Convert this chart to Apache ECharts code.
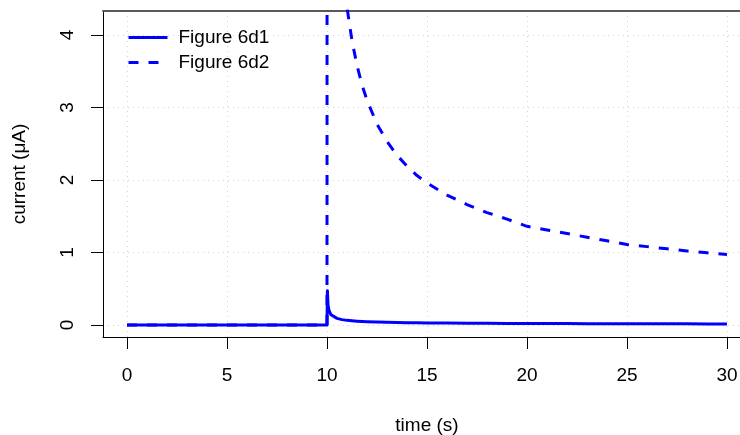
<!DOCTYPE html>
<html>
<head>
<meta charset="utf-8">
<script src="https://cdn.jsdelivr.net/npm/echarts@6/dist/echarts.min.js"></script>
<style>
  html, body { margin: 0; padding: 0; background: #fff; }
  #chart { width: 740px; height: 435px; }
</style>
</head>
<body>
<div id="chart"></div>
<script>
// Chronoamperometry traces: current step applied at t = 10 s
const timeSec = [0, 10, 10.02, 10.05, 10.1, 10.2, 10.3, 10.5, 10.75, 11, 11.25, 11.5, 11.75,
  12, 12.5, 13, 13.5, 14, 14.5, 15, 16, 17, 18, 19, 20, 21, 22, 23, 24, 25, 26, 27, 28, 29, 30];

// Figure 6d1 (solid)
const current6d1 = [0, 0, 0.47, 0.28, 0.2, 0.14, 0.115, 0.09, 0.073, 0.063, 0.057, 0.052, 0.048,
  0.045, 0.04, 0.036, 0.033, 0.031, 0.029, 0.028, 0.026, 0.024, 0.022, 0.021, 0.02, 0.019, 0.018,
  0.017, 0.017, 0.016, 0.016, 0.015, 0.015, 0.014, 0.014];

// Figure 6d2 (dashed)
const current6d2 = [0, 0, 31, 19.6, 13.9, 9.8, 8.0, 6.2, 5.06, 4.38, 3.92, 3.58, 3.31,
  3.1, 2.77, 2.53, 2.34, 2.19, 2.06, 1.96, 1.79, 1.66, 1.55, 1.46, 1.36, 1.31, 1.26,
  1.21, 1.16, 1.11, 1.08, 1.05, 1.02, 0.995, 0.97];

const xTicks = [0, 5, 10, 15, 20, 25, 30];
const yTicks = [0, 1, 2, 3, 4];
const seriesNames = ['Figure 6d1', 'Figure 6d2'];

const pairs = (xs, ys) => xs.map((x, i) => [x, ys[i]]);

const FONT = 'Liberation Sans, Arial, sans-serif';
const FS = 19;
const BLUE = '#0000ff';

const gridLine = { show: true, lineStyle: { color: '#d3d3d3', width: 1, type: [1, 4] } };

const chart = echarts.init(document.getElementById('chart'), null, { renderer: 'canvas' });
chart.setOption({
  animation: false,
  backgroundColor: '#ffffff',
  textStyle: { fontFamily: FONT },
  grid: {
    left: 103, top: 11, width: 648, height: 326,
    outerBoundsMode: 'none', containLabel: false, show: false
  },
  legend: {
    orient: 'vertical',
    left: 122, top: 23,
    itemWidth: 39, itemHeight: 14, itemGap: 6,
    data: seriesNames,
    itemStyle: { opacity: 0, borderWidth: 0 },
    lineStyle: { width: 3 },
    textStyle: { fontFamily: FONT, fontSize: FS, color: '#000', lineHeight: 19, padding: [0, 0, 0, 6] }
  },
  xAxis: [{
    type: 'value', min: -1.2, max: 31.2,
    name: 'time (s)', nameLocation: 'middle', nameGap: 79,
    nameTextStyle: { fontFamily: FONT, fontSize: FS, color: '#000' },
    axisLine: { show: true, onZero: false, lineStyle: { color: '#000', width: 1 } },
    axisTick: { show: true, inside: false, length: 12, customValues: xTicks, lineStyle: { color: '#000' } },
    axisLabel: { customValues: xTicks, margin: 29, fontFamily: FONT, fontSize: FS, color: '#000' },
    splitLine: gridLine
  }, {
    type: 'value', min: -1.2, max: 31.2, position: 'top',
    axisLine: { show: true, onZero: false, lineStyle: { color: '#5a5a5a', width: 2 } },
    axisTick: { show: false }, axisLabel: { show: false }, splitLine: { show: false }
  }],
  yAxis: {
    type: 'value', min: -0.1665, max: 4.33,
    name: 'current (\u03bcA)', nameLocation: 'middle', nameGap: 74, nameRotate: 90,
    nameTextStyle: { fontFamily: FONT, fontSize: FS, color: '#000' },
    axisLine: { show: true, onZero: false, lineStyle: { color: '#000', width: 1 } },
    axisTick: { show: true, inside: false, length: 12, customValues: yTicks, lineStyle: { color: '#000' } },
    axisLabel: { customValues: yTicks, rotate: 90, margin: 26, fontFamily: FONT, fontSize: FS, color: '#000' },
    splitLine: gridLine
  },
  series: [{
    name: seriesNames[0], type: 'line', showSymbol: false, symbol: 'none', clip: true,
    data: pairs(timeSec, current6d1),
    lineStyle: { color: BLUE, width: 3, type: 'solid', cap: 'butt', join: 'round' },
    itemStyle: { color: BLUE }
  }, {
    name: seriesNames[1], type: 'line', showSymbol: false, symbol: 'none', clip: true,
    data: pairs(timeSec, current6d2),
    lineStyle: { color: BLUE, width: 3, type: [10, 10], cap: 'butt', join: 'round' },
    itemStyle: { color: BLUE }
  }]
});
</script>
</body>
</html>
